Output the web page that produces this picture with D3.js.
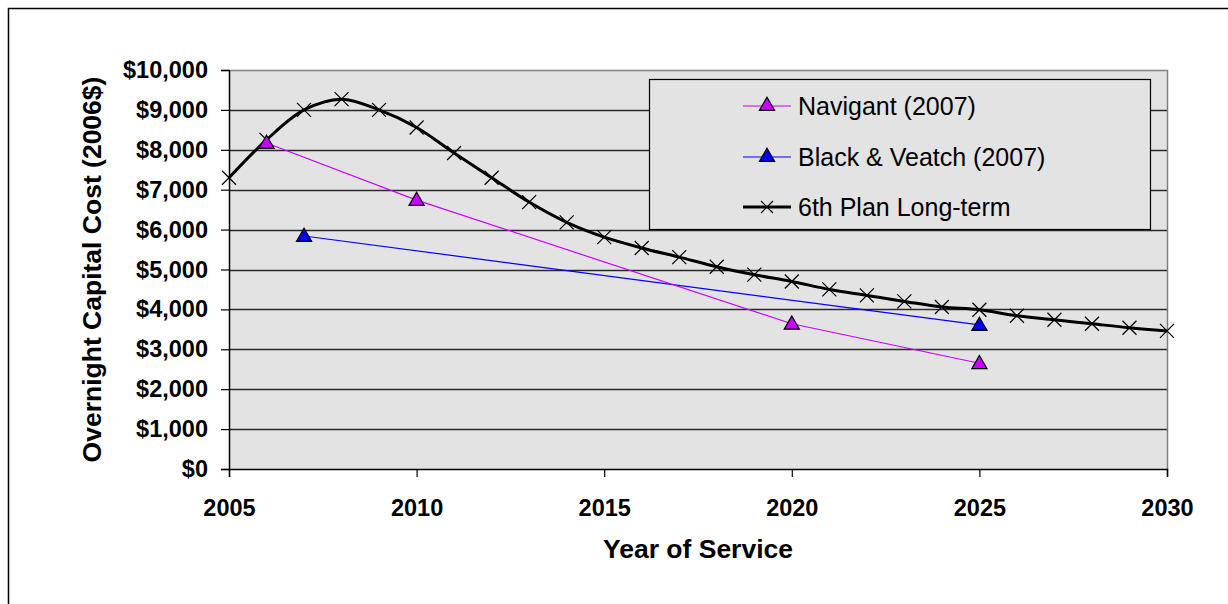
<!DOCTYPE html>
<html>
<head>
<meta charset="utf-8">
<script src="https://cdn.jsdelivr.net/npm/d3@7"></script>
<style>
  html, body { margin: 0; padding: 0; background: #ffffff; }
  svg { display: block; font-family: "Liberation Sans", Arial, sans-serif; }
</style>
</head>
<body>
<svg id="chart" width="1228" height="604"></svg>
<script>
// Overnight capital cost projections (2006$) by year of service
const planYears = [2005, 2006, 2007, 2008, 2009, 2010, 2011, 2012, 2013, 2014, 2015, 2016, 2017,
                   2018, 2019, 2020, 2021, 2022, 2023, 2024, 2025, 2026, 2027, 2028, 2029, 2030];
const planCost  = [7300, 8250, 9000, 9270, 9000, 8560, 7920, 7300, 6690, 6180, 5810, 5540, 5310,
                   5070, 4870, 4700, 4500, 4350, 4200, 4060, 3990, 3840, 3740, 3640, 3540, 3460];

const navigantYears = [2006, 2010, 2020, 2025];
const navigantCost  = [8170, 6740, 3640, 2650];

const bvYears = [2007, 2025];
const bvCost  = [5840, 3610];

const seriesNames = ["Navigant (2007)", "Black & Veatch (2007)", "6th Plan Long-term"];
const seriesColors = ["#cc00ff", "#0000ff", "#000000"];

const yTicks = [0, 1000, 2000, 3000, 4000, 5000, 6000, 7000, 8000, 9000, 10000];
const xTicks = [2005, 2010, 2015, 2020, 2025, 2030];

const svg = d3.select("#chart");

// outer chart frame (top and left edges)
svg.append("path")
  .attr("d", "M8.5,604 L8.5,8.5 L1228,8.5")
  .attr("fill", "none").attr("stroke", "#000").attr("stroke-width", 1.5);

const x = d3.scaleLinear().domain([2005, 2030]).range([229, 1167]);
const y = d3.scaleLinear().domain([0, 10000]).range([469, 70]);

// plot area
svg.append("rect")
  .attr("x", x(2005)).attr("y", y(10000))
  .attr("width", x(2030) - x(2005)).attr("height", y(0) - y(10000))
  .attr("fill", "#e3e3e3");

// horizontal gridlines
svg.append("g").selectAll("line")
  .data(yTicks.filter(d => d > 0 && d < 10000))
  .join("line")
  .attr("x1", x(2005)).attr("x2", x(2030))
  .attr("y1", d => Math.round(y(d)) + 0.5).attr("y2", d => Math.round(y(d)) + 0.5)
  .attr("stroke", "#2a2a2a").attr("stroke-width", 1.3);

// top and right plot border
svg.append("path")
  .attr("d", `M${x(2005)},${y(10000) + 0.5} L${x(2030) + 0.5},${y(10000) + 0.5} L${x(2030) + 0.5},${y(0)}`)
  .attr("fill", "none").attr("stroke", "#808080").attr("stroke-width", 1.5);

// axes
const yAxis = d3.axisLeft(y).tickValues(yTicks).tickFormat(d3.format("$,")).tickSize(8).tickPadding(13);
const xAxis = d3.axisBottom(x).tickValues(xTicks).tickFormat(d3.format("d")).tickSize(8).tickPadding(22);

const gy = svg.append("g").attr("transform", `translate(${x(2005)},0)`).call(yAxis);
const gx = svg.append("g").attr("transform", `translate(0,${y(0)})`).call(xAxis);

[gy, gx].forEach(g => {
  g.select(".domain").attr("stroke", "#000").attr("stroke-width", 1.5);
  g.selectAll(".tick line").attr("stroke", "#000").attr("stroke-width", 1.2);
  g.selectAll(".tick text")
    .attr("fill", "#000")
    .style("font-family", "'Liberation Sans', Arial, sans-serif")
    .style("font-size", "23.5px")
    .style("font-weight", "bold");
});

// axis titles
svg.append("text")
  .attr("transform", `translate(101,${(y(0) + y(10000)) / 2}) rotate(-90)`)
  .attr("text-anchor", "middle")
  .style("font-size", "26.5px").style("font-weight", "bold")
  .text("Overnight Capital Cost (2006$)");

svg.append("text")
  .attr("x", 698).attr("y", 558)
  .attr("text-anchor", "middle")
  .style("font-size", "26.5px").style("font-weight", "bold")
  .text("Year of Service");

// marker helpers
const tri = d3.symbol().type(d3.symbolTriangle).size(100);
function cross(sel, s) {
  sel.append("path")
    .attr("d", `M${-s},${-s}L${s},${s}M${-s},${s}L${s},${-s}`)
    .attr("stroke", "#000").attr("stroke-width", 1.2).attr("fill", "none");
}

// 6th Plan long-term (smoothed)
const planData = planYears.map((yr, i) => [yr, planCost[i]]);
svg.append("path")
  .datum(planData)
  .attr("fill", "none").attr("stroke", "#000").attr("stroke-width", 3)
  .attr("d", d3.line().x(d => x(d[0])).y(d => y(d[1])).curve(d3.curveCatmullRom.alpha(0.5)));
svg.append("g").selectAll("g")
  .data(planData).join("g")
  .attr("transform", d => `translate(${x(d[0])},${y(d[1])})`)
  .each(function () { cross(d3.select(this), 7); });

// study estimates
function drawStudy(years, costs, color) {
  const data = years.map((yr, i) => [yr, costs[i]]);
  svg.append("path")
    .datum(data)
    .attr("fill", "none").attr("stroke", color).attr("stroke-width", 1.2)
    .attr("d", d3.line().x(d => x(d[0])).y(d => y(d[1])));
  svg.append("g").selectAll("path")
    .data(data).join("path")
    .attr("transform", d => `translate(${x(d[0])},${y(d[1]) + 1})`)
    .attr("d", tri)
    .attr("fill", color).attr("stroke", "#000").attr("stroke-width", 1.2);
}
drawStudy(bvYears, bvCost, seriesColors[1]);
drawStudy(navigantYears, navigantCost, seriesColors[0]);

// legend
const legend = svg.append("g");
legend.append("rect")
  .attr("x", 649.5).attr("y", 79.5).attr("width", 501).attr("height", 150)
  .attr("fill", "#e3e3e3").attr("stroke", "#000").attr("stroke-width", 1.2);

const rowY = [106, 157, 207];
seriesNames.forEach((name, i) => {
  const g = legend.append("g").attr("transform", `translate(0,${rowY[i]})`);
  g.append("line")
    .attr("x1", 743).attr("x2", 791).attr("y1", 0).attr("y2", 0)
    .attr("stroke", seriesColors[i]).attr("stroke-width", i === 2 ? 3 : 1.2);
  if (i === 2) {
    cross(g.append("g").attr("transform", "translate(767,0)"), 6);
  } else {
    g.append("path")
      .attr("transform", "translate(767,0)")
      .attr("d", tri)
      .attr("fill", seriesColors[i]).attr("stroke", "#000").attr("stroke-width", 1.2);
  }
  g.append("text")
    .attr("x", 798).attr("y", 0).attr("dy", "0.35em")
    .style("font-size", "25px")
    .text(name);
});
</script>
</body>
</html>
